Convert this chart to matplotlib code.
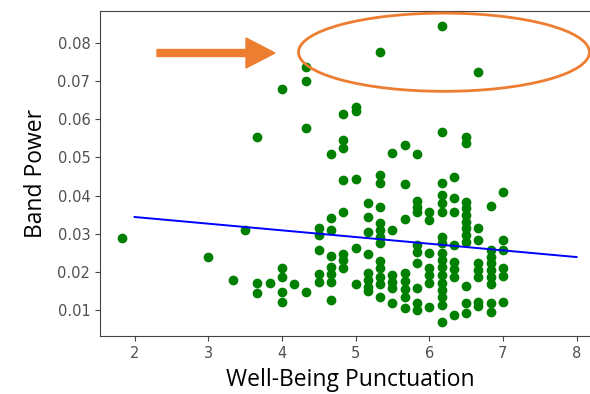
import matplotlib
matplotlib.use("Agg")
from matplotlib import pyplot as plt
from matplotlib.patches import Ellipse, FancyArrow

# Well-being score (in sixths) and the band power values recorded at each score
wellbeing_cols = [
    1.833, 3.0, 3.333, 3.5, 3.667, 3.833, 4.0, 4.167, 4.333, 4.5, 4.667, 4.833,
    5.0, 5.167, 5.333, 5.5, 5.667, 5.833, 6.0, 6.167, 6.333, 6.5, 6.667, 6.833, 7.0,
]
band_power_cols = [
    [0.029],
    [0.024],
    [0.018],
    [0.031],
    [0.0555, 0.017, 0.0145],
    [0.017],
    [0.068, 0.021, 0.0187, 0.0147, 0.0121],
    [0.0168],
    [0.0737, 0.070, 0.0577, 0.0147],
    [0.0315, 0.0297, 0.0257, 0.0194, 0.0174],
    [0.0508, 0.0341, 0.031, 0.0242, 0.0213, 0.0194, 0.0174, 0.0126],
    [0.0614, 0.0545, 0.0525, 0.044, 0.0357, 0.0247, 0.0231, 0.021],
    [0.0632, 0.0622, 0.0443, 0.0263, 0.0168],
    [0.0381, 0.0344, 0.0305, 0.0247, 0.0197, 0.0179, 0.016, 0.015],
    [0.0776, 0.0453, 0.0433, 0.037, 0.0328, 0.031, 0.0292, 0.0276, 0.0229,
     0.021, 0.0187, 0.0168, 0.0134],
    [0.0511, 0.031, 0.0192, 0.0174, 0.0158, 0.0118],
    [0.0532, 0.043, 0.0339, 0.0197, 0.0176, 0.0155, 0.0134, 0.0105],
    [0.0508, 0.0386, 0.037, 0.0357, 0.0271, 0.0252, 0.0223, 0.0158, 0.0118, 0.010],
    [0.0357, 0.0336, 0.025, 0.021, 0.0192, 0.0171, 0.0108],
    [0.0845, 0.0566, 0.0433, 0.0402, 0.0381, 0.0357, 0.0292, 0.0276, 0.025,
     0.0231, 0.0213, 0.0192, 0.0171, 0.0152, 0.0134, 0.0113, 0.0069],
    [0.0448, 0.0394, 0.0357, 0.0271, 0.0226, 0.0208, 0.0187, 0.0087],
    [0.0553, 0.0537, 0.0383, 0.0368, 0.0349, 0.0331, 0.0315, 0.0297, 0.0278,
     0.0163, 0.0118, 0.0092],
    [0.0723, 0.0315, 0.0284, 0.0223, 0.0205, 0.0187, 0.0121, 0.011],
    [0.0373, 0.0257, 0.0239, 0.0223, 0.0205, 0.0187, 0.0168, 0.0118, 0.0095],
    [0.041, 0.0284, 0.0257, 0.021, 0.0189, 0.0121],
]

# Fitted regression line
fit_x = [2, 8]
fit_y = [0.0344, 0.0239]

x_ticks = [2, 3, 4, 5, 6, 7, 8]
y_ticks = [0.01, 0.02, 0.03, 0.04, 0.05, 0.06, 0.07, 0.08]

ORANGE = "#ED7D31"

xs = [x for x, col in zip(wellbeing_cols, band_power_cols) for _ in col]
ys = [y for col in band_power_cols for y in col]

fig = plt.figure(figsize=(5.9, 3.94), dpi=100)
ax = fig.add_axes([0.1695, 0.1472, 0.847, 0.8248])

ax.scatter(xs, ys, s=36, color="green", zorder=3)
ax.plot(fit_x, fit_y, color="blue", lw=1.4, zorder=4)

ax.set_xlim(1.53, 8.315)
ax.set_ylim(0.0032, 0.0884)
ax.set_xticks(x_ticks)
ax.set_yticks(y_ticks)
ax.set_xticklabels([str(t) for t in x_ticks])
ax.set_yticklabels([f"{t:.2f}" for t in y_ticks])
ax.tick_params(labelsize=10.5, colors="#444444", labelcolor="#505050", length=3.5)
for side in ("left", "top", "bottom"):
    ax.spines[side].set_color("#444444")
ax.spines["right"].set_visible(False)

ax.set_xlabel("Well-Being Punctuation", fontsize=16.5, family="Open Sans", color="black", labelpad=5)
ax.set_ylabel("Band Power", fontsize=16.5, family="Open Sans", color="black", labelpad=7)

# Highlight the outliers at the top
ax.add_patch(Ellipse((6.2, 0.0776), 3.95, 0.0205, fill=False, edgecolor=ORANGE,
                     lw=2, clip_on=False, zorder=5))
fig.add_artist(FancyArrow(1.57, 3.41, 1.18, 0, width=0.07, head_width=0.30,
                          head_length=0.29, length_includes_head=True,
                          color=ORANGE, transform=fig.dpi_scale_trans))

fig.savefig("out.png", dpi=100)
